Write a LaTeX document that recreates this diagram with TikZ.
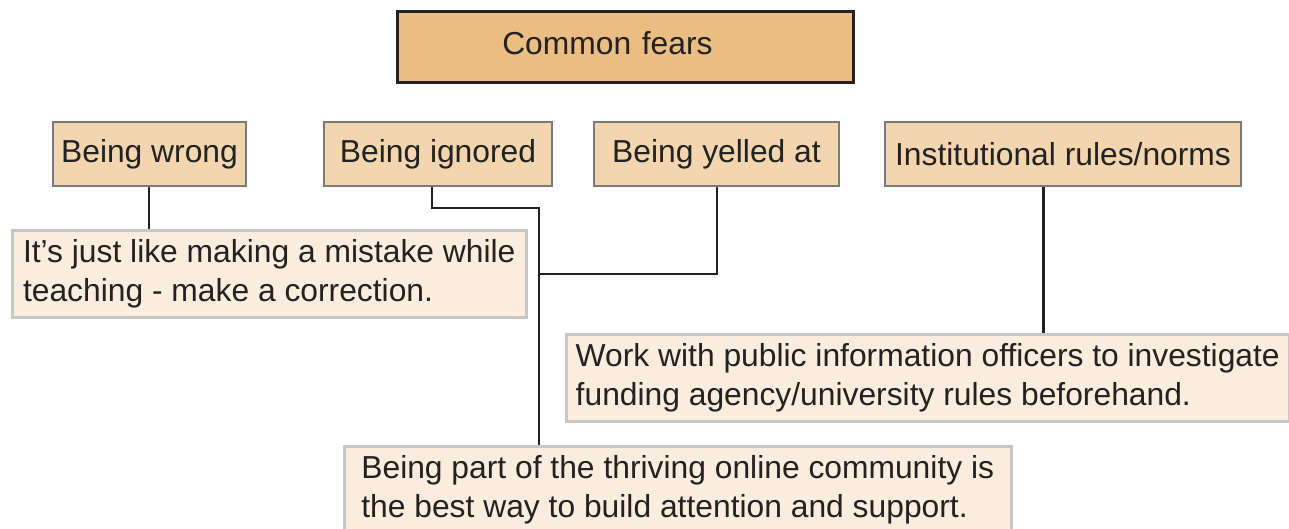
\documentclass[tikz,border=0pt]{standalone}
\usepackage{fontspec}
\setmainfont{Liberation Sans}
\usetikzlibrary{positioning}

\definecolor{titlefill}{HTML}{EBBD82}
\definecolor{fearfill}{HTML}{F3D6B0}
\definecolor{fearline}{HTML}{7A7A7A}
\definecolor{tipfill}{HTML}{FAEDDD}
\definecolor{tipline}{HTML}{C8C8C8}
\definecolor{ink}{HTML}{222222}

\begin{document}
\begin{tikzpicture}[x=1pt, y=-1pt,
        font=\fontsize{31.8}{38.5}\selectfont, text=ink,
        titlebox/.style={draw=ink, line width=2.5pt, fill=titlefill, anchor=north west,
                minimum height=71pt, inner xsep=105pt, text width=246pt, align=left,
                text depth=8pt},
        fearbox/.style={draw=fearline, line width=2pt, fill=fearfill, anchor=north west,
                minimum height=64pt, inner xsep=0pt},
        tipbox/.style={draw=tipline, line width=2.5pt, fill=tipfill, anchor=north west,
                minimum height=87pt, align=left, inner xsep=0pt},
        link/.style={draw=ink, line width=2pt},
        biglink/.style={draw=ink, line width=3pt}]
        \useasboundingbox (0, 0) rectangle (1289, 528);
        \clip (0, 0) rectangle (1289, 528);

        \node[titlebox] (fears) at (396, 10) {Common fears};

        \node[fearbox, minimum width=193pt] (wrong) at (52, 121) {Being wrong};
        \node[fearbox, minimum width=228pt] (ignored) at (323, 121) {Being ignored};
        \node[fearbox, minimum width=245pt] (yelled) at (593, 121) {Being yelled at};
        \node[fearbox, minimum width=356pt] (rules) at (884, 121) {Institutional rules/norms};

        \node[tipbox, minimum width=514pt] (mistake) at (11, 229)
                {It’s just like making a mistake while\\teaching - make a correction.};
        \node[tipbox, minimum width=723pt] (officers) at (565, 333)
                {Work with public information officers to investigate\\funding agency/university rules beforehand.};
        \node[tipbox, minimum width=667pt] (community) at (343, 445)
                {Being part of the thriving online community is\\the best way to build attention and support.};

        \coordinate (bend) at (539, 208);
        \coordinate (joint) at (539, 274);

        \draw[link] ([xshift=-1pt]wrong.south) -- ([xshift=-1pt]wrong.south |- mistake.north);
        \draw[link] ([xshift=-6pt]ignored.south) |- (bend) -- (bend |- community.north);
        \draw[link] (yelled.south) |- (joint);
        \draw[biglink] ([xshift=-20pt]rules.south) -- ([xshift=-20pt]rules.south |- officers.north);
\end{tikzpicture}
\end{document}
